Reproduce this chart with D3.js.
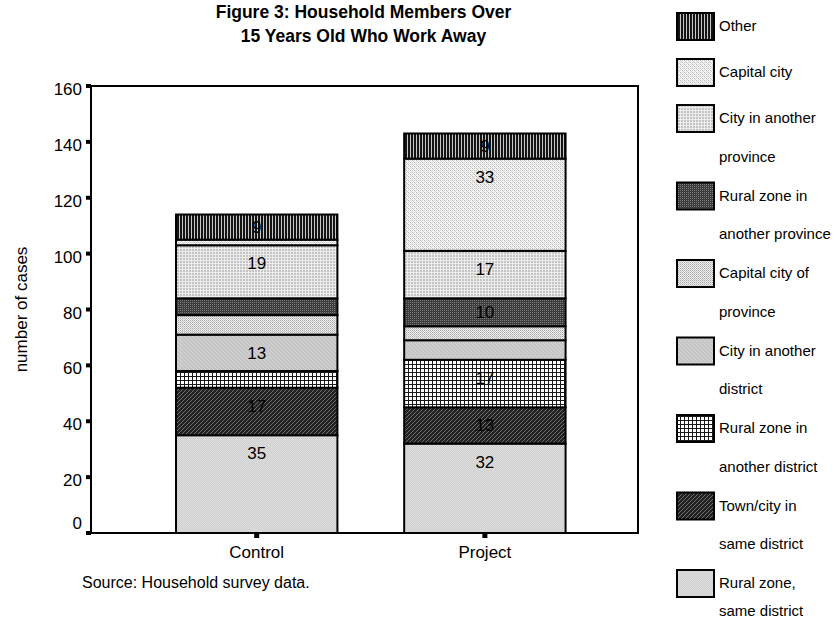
<!DOCTYPE html>
<html>
<head>
<meta charset="utf-8">
<script src="https://cdn.jsdelivr.net/npm/d3@7"></script>
<style>
  html, body { margin: 0; padding: 0; background: #fff; }
  svg { display: block; font-family: "Liberation Sans", Arial, sans-serif; }
</style>
</head>
<body>
<svg id="chart" width="834" height="626"></svg>
<script>
// Destination categories, listed from the bottom of each stack to the top
const seriesNames = [
  "Rural zone, same district",
  "Town/city in same district",
  "Rural zone in another district",
  "City in another district",
  "Capital city of province",
  "Rural zone in another province",
  "City in another province",
  "Capital city",
  "Other"
];
const categories = ["Control", "Project"];
const controlValues = [35, 17, 6, 13, 7, 6, 19, 2, 9];
const projectValues = [32, 13, 17, 7, 5, 10, 17, 33, 9];
const yTicks = [0, 20, 40, 60, 80, 100, 120, 140, 160];
// Legend text (top to bottom), wrapped as printed
const legendLines = [
  ["Other"],
  ["Capital city"],
  ["City in another", "province"],
  ["Rural zone in", "another province"],
  ["Capital city of", "province"],
  ["City in another", "district"],
  ["Rural zone in", "another district"],
  ["Town/city in", "same district"],
  ["Rural zone,", "same district"]
];
const titleLines = ["Figure 3: Household Members Over", "15 Years Old Who Work Away"];
const yTitle = "number of cases";
const sourceNote = "Source: Household survey data.";
const labelMin = 9; // segments smaller than this carry no value label

const svg = d3.select("#chart");
const defs = svg.append("defs");

// Monochrome fill patterns, one per series
function pattern(id, size, bg, pixels) {
  const p = defs.append("pattern")
    .attr("id", id).attr("patternUnits", "userSpaceOnUse")
    .attr("width", size).attr("height", size);
  p.append("rect").attr("width", size).attr("height", size).attr("fill", bg)
    .attr("shape-rendering", "crispEdges");
  pixels.forEach(([px, py, w, h, c]) => p.append("rect")
    .attr("x", px).attr("y", py).attr("width", w).attr("height", h).attr("fill", c)
    .attr("shape-rendering", "crispEdges"));
  return "url(#" + id + ")";
}
const fills = [
  // Rural zone, same district: fine light grey texture
  pattern("p0", 2, "#cfcfcf", [[0, 0, 1, 1, "#dedede"], [1, 1, 1, 1, "#dedede"]]),
  // Town/city in same district: dark diagonal hatch
  pattern("p1", 4, "#222222", [[3, 0, 1, 1, "#6e6e6e"], [2, 1, 1, 1, "#6e6e6e"], [1, 2, 1, 1, "#6e6e6e"], [0, 3, 1, 1, "#6e6e6e"]]),
  // Rural zone in another district: white with black grid
  pattern("p2", 4, "#ffffff", [[0, 0, 4, 1, "#1a1a1a"], [0, 0, 1, 4, "#1a1a1a"]]),
  // City in another district: medium light grey
  pattern("p3", 4, "#c6c6c6", [[0, 0, 1, 1, "#d4d4d4"], [1, 1, 1, 1, "#d4d4d4"], [2, 2, 1, 1, "#d4d4d4"], [3, 3, 1, 1, "#d4d4d4"]]),
  // Capital city of province: light dotted
  pattern("p4", 2, "#eeeeee", [[0, 0, 1, 1, "#a8a8a8"], [1, 1, 1, 1, "#c8c8c8"]]),
  // Rural zone in another province: dark dotted
  pattern("p5", 2, "#3c3c3c", [[0, 0, 1, 1, "#7c7c7c"]]),
  // City in another province: light grey grid
  pattern("p6", 3, "#c4c4c4", [[0, 2, 3, 1, "#ececec"], [2, 0, 1, 3, "#ececec"]]),
  // Capital city: very light crosshatch
  pattern("p7", 4, "#f4f4f4", [[0, 0, 1, 1, "#bcbcbc"], [1, 1, 1, 1, "#d0d0d0"], [2, 2, 1, 1, "#bcbcbc"], [3, 3, 1, 1, "#d0d0d0"], [2, 0, 1, 1, "#d0d0d0"], [0, 2, 1, 1, "#d0d0d0"]]),
  // Other: black with thin vertical light lines
  pattern("p8", 3, "#141414", [[2, 0, 1, 3, "#c8c8c8"]])
];

// Plot frame and scales
const frame = { left: 91, right: 638, top: 86, bottom: 533 };
const y = d3.scaleLinear().domain([0, 160]).range([frame.bottom, frame.top]);
const x = d3.scaleBand().domain(categories)
  .range([frame.left, frame.right])
  .paddingInner(0.2926).paddingOuter(0.345).align(0.54);

const valuesByCategory = { Control: controlValues, Project: projectValues };
const table = categories.map(c => {
  const row = { category: c };
  seriesNames.forEach((s, i) => row[s] = valuesByCategory[c][i]);
  return row;
});
const stacked = d3.stack().keys(seriesNames)(table);

// Bars
const g = svg.append("g");
stacked.forEach((layer, si) => {
  g.selectAll(null).data(layer).enter().append("rect")
    .attr("x", d => x(d.data.category))
    .attr("y", d => y(d[1]))
    .attr("width", x.bandwidth())
    .attr("height", d => y(d[0]) - y(d[1]))
    .attr("fill", fills[si])
    .attr("stroke", "#000")
    .attr("stroke-width", 2);
});

// Value labels on the larger segments
stacked.forEach(layer => {
  layer.forEach(d => {
    const v = d[1] - d[0];
    if (v < labelMin) return;
    const segTop = y(d[1]), segBot = y(d[0]);
    const cy = Math.min(segTop + 18, (segTop + segBot) / 2);
    g.append("text")
      .attr("x", x(d.data.category) + x.bandwidth() / 2)
      .attr("y", cy)
      .attr("dy", "0.36em")
      .attr("text-anchor", "middle")
      .attr("font-size", 17)
      .attr("fill", "#000")
      .text(v);
  });
});

// Frame
svg.append("rect")
  .attr("x", frame.left).attr("y", frame.top)
  .attr("width", frame.right - frame.left).attr("height", frame.bottom - frame.top)
  .attr("fill", "none").attr("stroke", "#000").attr("stroke-width", 2);

// Y axis ticks and labels
const yAxis = svg.append("g");
yTicks.forEach(t => {
  yAxis.append("rect")
    .attr("x", frame.left - 5).attr("y", y(t) - 2)
    .attr("width", 5).attr("height", 4).attr("fill", "#000");
  yAxis.append("text")
    .attr("x", frame.left - 9)
    .attr("y", t === 0 ? y(t) - 10 : y(t) + 3)
    .attr("dy", "0.36em")
    .attr("text-anchor", "end")
    .attr("font-size", 17)
    .text(t);
});
svg.append("text")
  .attr("transform", `translate(21,${(frame.top + frame.bottom) / 2}) rotate(-90)`)
  .attr("text-anchor", "middle")
  .attr("dy", "0.36em")
  .attr("font-size", 17)
  .text(yTitle);

// X axis ticks and labels
categories.forEach(c => {
  const cx = x(c) + x.bandwidth() / 2;
  svg.append("rect")
    .attr("x", cx - 2.5).attr("y", frame.bottom)
    .attr("width", 5).attr("height", 5).attr("fill", "#000");
  svg.append("text")
    .attr("x", cx).attr("y", 552).attr("dy", "0.36em")
    .attr("text-anchor", "middle").attr("font-size", 17)
    .text(c);
});

// Title
titleLines.forEach((t, i) => {
  svg.append("text")
    .attr("x", 363.5).attr("y", 12 + i * 24).attr("dy", "0.36em")
    .attr("text-anchor", "middle")
    .attr("font-size", 17.5).attr("font-weight", "bold")
    .text(t);
});

// Source note
svg.append("text")
  .attr("x", 82).attr("y", 582).attr("dy", "0.36em")
  .attr("font-size", 16)
  .text(sourceNote);

// Legend, top entry = top of stack
const legend = svg.append("g");
let entryTop = 13;
legendLines.forEach((lines, i) => {
  const si = seriesNames.length - 1 - i;
  legend.append("rect")
    .attr("x", 677).attr("y", entryTop)
    .attr("width", 37).attr("height", 27)
    .attr("fill", fills[si]).attr("stroke", "#000").attr("stroke-width", 2);
  lines.forEach((ln, j) => {
    // keep the last wrapped line inside the page
    const ly = Math.min(entryTop + 13 + j * 38.5, 611);
    legend.append("text")
      .attr("x", 719).attr("y", ly).attr("dy", "0.36em")
      .attr("font-size", 15)
      .text(ln);
  });
  entryTop += lines.length === 1 ? 46 : 77.5;
});
</script>
</body>
</html>
